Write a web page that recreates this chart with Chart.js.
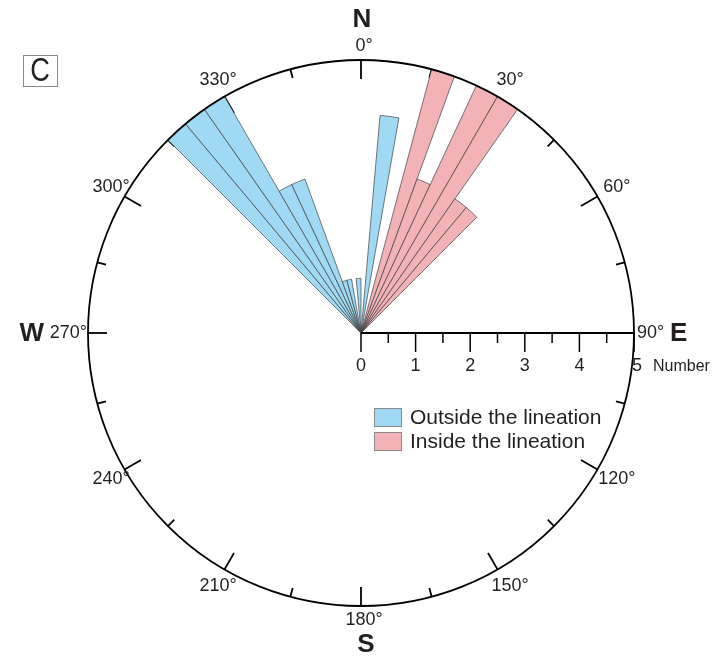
<!DOCTYPE html>
<html lang="en">
<head>
<meta charset="UTF-8">
<title>Rose diagram C</title>
<script src="https://cdn.jsdelivr.net/npm/chart.js"></script>
<style>
    html, body { margin: 0; padding: 0; background: #fff; }
    #wrap { position: relative; width: 723px; height: 657px; }
</style>
</head>
<body>
<div id="wrap"><canvas id="rose" width="723" height="657"></canvas></div>
<script>
// 5 degree bins, each direction is the start azimuth of its bin
const binSize = 5;
const outsideDirs = [5, 315, 320, 325, 330, 335, 340, 345, 355];
const outsideCounts = [4, 5, 5, 5, 3, 3, 1, 1, 1];
const insideDirs = [15, 20, 25, 30, 35, 40];
const insideCounts = [5, 3, 5, 5, 3, 3];
const seriesNames = ['Outside the lineation', 'Inside the lineation'];
const seriesColors = ['#a0d9f3', '#f3b3b6'];
const compassAngles = [0, 30, 60, 90, 120, 150, 180, 210, 240, 270, 300, 330];
const compassLabels = ['0°', '30°', '60°', '90°', '120°', '150°', '180°', '210°', '240°', '270°', '300°', '330°'];
const numberTicks = [0, 1, 2, 3, 4, 5];
const maxCount = 5;

const TXT = '#231f20';
const FONT = '"Liberation Sans", Arial, sans-serif';

// one label per bin, polarArea splits the circle evenly between them
const binLabels = [];
for (let a = 0; a < 360; a += binSize) binLabels.push(a + '°');

function toBins(dirs, counts) {
    const arr = binLabels.map(() => 0);
    dirs.forEach((d, i) => { arr[d / binSize] = counts[i]; });
    return arr;
}

const rad = d => (d - 90) * Math.PI / 180;

// compass ring, ticks, number axis, labels and legend
const roseDecor = {
    id: 'roseDecor',
    beforeDatasetsDraw(chart) {
        // ring ticks every 15 degrees, pointing inward, under the petals
        const ctx = chart.ctx;
        const s = chart.scales.r;
        const cx = s.xCenter, cy = s.yCenter;
        const R = s.getDistanceFromCenterForValue(maxCount);
        ctx.save();
        ctx.strokeStyle = '#000';
        ctx.lineWidth = 1.8;
        for (let d = 0; d < 360; d += 15) {
            const len = d % 30 === 0 ? 19 : 9;
            const a = rad(d);
            ctx.beginPath();
            ctx.moveTo(cx + Math.cos(a) * R, cy + Math.sin(a) * R);
            ctx.lineTo(cx + Math.cos(a) * (R - len), cy + Math.sin(a) * (R - len));
            ctx.stroke();
        }
        ctx.restore();
    },
    afterDraw(chart) {
        const ctx = chart.ctx;
        const s = chart.scales.r;
        const cx = s.xCenter, cy = s.yCenter;
        const R = s.getDistanceFromCenterForValue(maxCount);

        ctx.save();
        ctx.strokeStyle = '#000';
        ctx.lineWidth = 1.8;
        ctx.beginPath();
        ctx.arc(cx, cy, R, 0, Math.PI * 2);
        ctx.stroke();

        // number axis toward E
        ctx.beginPath();
        ctx.moveTo(cx, cy);
        ctx.lineTo(cx + R, cy);
        ctx.stroke();
        ctx.lineWidth = 1.5;
        for (let v = 0; v <= maxCount; v += 0.5) {
            const x = cx + s.getDistanceFromCenterForValue(v);
            const len = Number.isInteger(v) ? 19 : 10;
            ctx.beginPath();
            ctx.moveTo(x, cy);
            ctx.lineTo(x, cy + len);
            ctx.stroke();
        }
        ctx.fillStyle = TXT;
        ctx.font = '18px ' + FONT;
        ctx.textAlign = 'center';
        ctx.textBaseline = 'middle';
        numberTicks.forEach(v => {
            const dx = v === maxCount ? 3 : 0;
            ctx.fillText(String(v), cx + s.getDistanceFromCenterForValue(v) + dx, cy + 33);
        });
        ctx.textAlign = 'left';
        ctx.font = '16px ' + FONT;
        ctx.fillText('Number', cx + R + 19, cy + 34);

        // degree labels
        ctx.font = '18px ' + FONT;
        compassAngles.forEach((d, i) => {
            const a = rad(d);
            if (d === 90) {
                ctx.textAlign = 'left';
                ctx.fillText(compassLabels[i], cx + R + 3, cy);
            } else if (d === 270) {
                ctx.textAlign = 'right';
                ctx.fillText(compassLabels[i], cx - R - 1, cy);
            } else {
                const r = (d === 0 || d === 180) ? 287 * R / 273 : 292 * R / 273;
                ctx.textAlign = 'center';
                ctx.fillText(compassLabels[i], cx + Math.cos(a) * r + 3, cy + Math.sin(a) * r);
            }
        });

        // cardinal letters
        ctx.font = 'bold 26px ' + FONT;
        ctx.textAlign = 'center';
        ctx.fillText('N', cx + 1, cy - 313);
        ctx.fillText('S', cx + 5, cy + 312);
        ctx.textAlign = 'left';
        ctx.fillText('E', cx + R + 36, cy + 1);
        ctx.textAlign = 'right';
        ctx.fillText('W', cx - R - 44, cy + 1);

        // panel letter
        ctx.strokeStyle = '#8a8a8a';
        ctx.lineWidth = 1;
        ctx.strokeRect(23.5, 55.5, 34, 31);
        ctx.save();
        ctx.translate(40, 72);
        ctx.scale(0.8, 1);
        ctx.font = '34px ' + FONT;
        ctx.textAlign = 'center';
        ctx.fillText('C', 0, 0);
        ctx.restore();

        // legend
        ctx.font = '21px ' + FONT;
        ctx.textAlign = 'left';
        seriesNames.forEach((name, i) => {
            const y = 408 + i * 24;
            ctx.fillStyle = seriesColors[i];
            ctx.fillRect(374, y, 28, 19);
            ctx.strokeStyle = '#8a8a8a';
            ctx.strokeRect(374.5, y + 0.5, 27, 18);
            ctx.fillStyle = TXT;
            ctx.fillText(name, 410, y + 10);
        });
        ctx.restore();
    }
};

new Chart(document.getElementById('rose'), {
    type: 'polarArea',
    data: {
        labels: binLabels,
        datasets: [
            {
                label: seriesNames[0],
                data: toBins(outsideDirs, outsideCounts),
                backgroundColor: seriesColors[0],
                borderColor: 'rgba(60,60,60,0.85)',
                borderWidth: c => (c.raw > 0 ? 0.8 : 0)
            },
            {
                label: seriesNames[1],
                data: toBins(insideDirs, insideCounts),
                backgroundColor: seriesColors[1],
                borderColor: 'rgba(60,60,60,0.85)',
                borderWidth: c => (c.raw > 0 ? 0.8 : 0)
            }
        ]
    },
    options: {
        responsive: false,
        animation: false,
        events: [],
        layout: { padding: { left: 88, right: 89, top: 60, bottom: 51 } },
        plugins: { legend: { display: false }, tooltip: { enabled: false } },
        scales: {
            r: {
                min: 0,
                max: maxCount,
                ticks: { display: false },
                grid: { display: false },
                angleLines: { display: false },
                pointLabels: { display: false }
            }
        }
    },
    plugins: [roseDecor]
});
</script>
</body>
</html>
